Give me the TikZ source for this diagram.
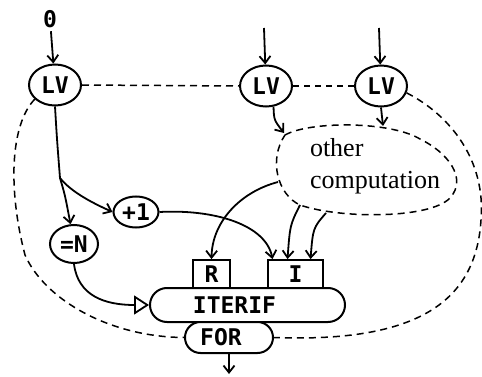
\documentclass[tikz,border=0pt]{standalone}
\usepackage{fontspec}
\setmainfont{Liberation Serif}
\newfontfamily\codefont{DejaVu Sans Mono}
\usepackage{tikz}
\usetikzlibrary{arrows.meta, shapes.geometric, shapes.misc, calc, positioning}
\newcommand{\codesize}{\codefont\bfseries\fontsize{23}{25}\selectfont}

\begin{document}
\begin{tikzpicture}[
          x=1pt, y=-1pt,
          >={Straight Barb[length=7pt,width=11pt]},
          wire/.style={line width=1.8pt},
          loopline/.style={line width=1.5pt, dash pattern=on 7pt off 5pt},
          lv/.style={ellipse, draw, line width=2pt, fill=white, minimum width=52pt, minimum height=41pt, inner sep=0pt, font=\codesize},
          op/.style={ellipse, draw, line width=2pt, fill=white, inner sep=0pt, font=\codesize},
          port/.style={rectangle, draw, line width=1.8pt, fill=white, minimum height=28pt, inner sep=0pt, font=\codesize},
          bar/.style={rounded rectangle, draw, line width=2pt, fill=white, inner sep=0pt, font=\codesize},
          lab/.style={font=\fontsize{26}{32}\selectfont, align=left, inner sep=0pt},
        ]
        \useasboundingbox (0,0) rectangle (482,377);

        % loop variables
        \node[lv] (lv1) at (55,85) {LV};
        \node[lv] (lv2) at (266,86) {LV};
        \node[lv] (lv3) at (381,86) {LV};

        % inputs
        \node[font=\codesize] (zero) at (50,19) {0};
        \coordinate (in2) at (264,28);
        \coordinate (in3) at (379,28);
        \draw[wire,->] (zero) -- (lv1);
        \draw[wire,->] (in2) -- (lv2);
        \draw[wire,->] (in3) -- (lv3);

        % dashed loop links
        \draw[loopline] (lv1.east) -- (lv2.west);
        \draw[loopline, dash pattern=on 6pt off 5pt] (lv2.east) -- (lv3.west);

        % the "other computation" blob
        \draw[loopline]
          (285,135) .. controls (310,121) and (390,121) .. (420,139)
                    .. controls (447,152) and (468,178) .. (450,198)
                    .. controls (430,219) and (340,219) .. (300,205)
                    .. controls (278,195) and (268,160) .. (285,135) -- cycle;
        \node[lab] (other) at (375,166) {other\\computation};
        \coordinate (cloudT1) at (284,133);
        \coordinate (cloudT2) at (383,126);
        \coordinate (cloudL) at (278,182);
        \coordinate (cloudB1) at (300,205);
        \coordinate (cloudB2) at (326,213);

        \draw[wire,->] (lv2.290) .. controls (274,120) .. (cloudT1);
        \draw[wire,->] (lv3.south) -- (cloudT2);

        % ops
        \node[op, minimum width=45pt, minimum height=31pt] (plus) at (136,212) {+1};
        \node[op, minimum width=48pt, minimum height=38pt] (eqn) at (74,244) {=N};

        % ITERIF / FOR
        \node[bar, minimum width=195pt, minimum height=34pt] (iterif) at (247.5,305) {ITERIF\hspace*{26pt}};
        \node[bar, minimum width=88pt, minimum height=31pt] (for) at (229,337.5) {FOR\hspace*{16pt}};
        \node[port, minimum width=37pt] (rport) at (211.5,274) {R};
        \node[port, minimum width=55pt] (iport) at (295.5,274) {I};
        \coordinate (i1) at ($(iport.north)+(-23,0)$);
        \coordinate (i2) at ($(iport.north)+(-8,0)$);
        \coordinate (i3) at ($(iport.north)+(15,0)$);

        % dataflow
        \coordinate (fork) at (60,178);
        \draw[wire] (lv1.south) .. controls (57,140) .. (fork);
        \draw[wire,->] (fork) .. controls (65,195) .. (eqn.100);
        \draw[wire,->] (fork) .. controls (72,193) and (95,204) .. (plus.west);
        \draw[wire,->] (plus.east) .. controls (215,209) and (266,225) .. (i1);
        \draw[wire,-{Triangle[open, length=15pt, width=19pt]}]
          (eqn.south) .. controls (78,296) and (105,305) .. (iterif.west);
        \draw[wire,->] (cloudL) .. controls (240,192) and (212,222) .. (rport.north);
        \draw[wire,->] (cloudB1) .. controls (290,225) .. (i2);
        \draw[wire,->] (cloudB2) .. controls (313,228) .. (i3);
        \coordinate (out) at (229,374);
        \draw[wire,->] (for.south) -- (out);

        % dashed loop back to FOR
        \draw[loopline] (lv1.215) .. controls (10,125) and (8,190) .. (25,255)
                                  .. controls (45,300) and (110,337) .. (for.west);
        \draw[loopline] (lv3.-15) .. controls (450,115) and (486,160) .. (481,220)
                                  .. controls (476,300) and (420,343) .. (for.east);
\end{tikzpicture}
\end{document}
